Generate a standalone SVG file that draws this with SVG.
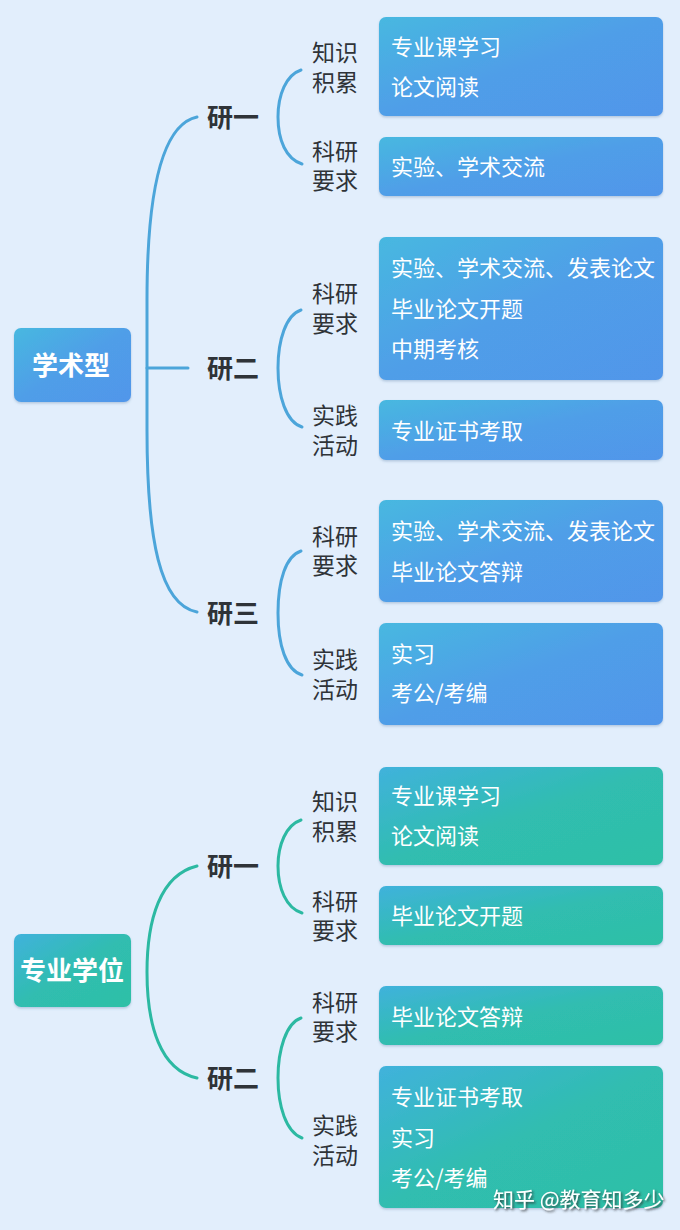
<svg xmlns="http://www.w3.org/2000/svg" width="680" height="1230" viewBox="0 0 680 1230">
<defs>
<linearGradient id="gb" x1="0" y1="0" x2="1" y2="1"><stop offset="0" stop-color="#47b8e0"/><stop offset="0.5" stop-color="#509ee8"/><stop offset="1" stop-color="#5196ea"/></linearGradient>
<linearGradient id="gg" x1="0" y1="0" x2="1" y2="1"><stop offset="0" stop-color="#40b2dc"/><stop offset="0.5" stop-color="#30bdb0"/><stop offset="1" stop-color="#2ec0a6"/></linearGradient>
<filter id="sh" x="-5%" y="-5%" width="110%" height="120%"><feDropShadow dx="0" dy="1.5" stdDeviation="1.2" flood-color="#5a7fa8" flood-opacity="0.35"/></filter>
<filter id="ws" x="-5%" y="-20%" width="110%" height="140%"><feDropShadow dx="1.5" dy="1.5" stdDeviation="0.8" flood-color="#333" flood-opacity="0.8"/></filter>
</defs>
<style>
text{font-family:"Noto Sans CJK SC","Noto Sans",sans-serif;dominant-baseline:central}
.root{font-size:26px;font-weight:bold;fill:#fff;text-anchor:middle}
.l1{font-size:26px;font-weight:bold;fill:#2f3338}
.l2{font-size:23px;fill:#2f3338}
.bt{font-size:22px;fill:#fff}
.cb{fill:none;stroke:#4ca5da;stroke-width:3;stroke-linecap:round}
.cg{fill:none;stroke:#2cb9a2;stroke-width:3;stroke-linecap:round}
.bb{fill:url(#gb);filter:url(#sh)}
.bg{fill:url(#gg);filter:url(#sh)}
</style>
<rect width="680" height="1230" fill="#e2eefc"/>
<g id="connectors">
<path class="cb" d="M197,117 C160,125 147,200 147,300 L147,430 C147,540 160,605 197,612"/>
<path class="cb" d="M147,368 L188,368"/>
<path class="cb" d="M301,70 C286,75 278,95 278,117 C278,140 286,159 302,164"/>
<path class="cb" d="M301,310 C286,315 278,340 278,368 C278,396 286,422 302,427"/>
<path class="cb" d="M301,551 C286,556 278,580 278,613 C278,645 286,670 302,675"/>
<path class="cg" d="M197,866 C160,875 147,920 147,972 C147,1025 160,1070 197,1078"/>
<path class="cg" d="M301,820 C286,825 278,845 278,866 C278,888 286,908 302,913"/>
<path class="cg" d="M301,1018 C286,1023 278,1050 278,1078 C278,1106 286,1132 302,1138"/>
</g>
<g id="root-academic"><rect x="14" y="328" width="117" height="74" rx="7" class="bb"/><text class="root" x="71" y="363">学术型</text></g>
<g id="a-y1"><text class="l1" x="207" y="115">研一</text></g>
<g id="a-y2"><text class="l1" x="207" y="366">研二</text></g>
<g id="a-y3"><text class="l1" x="207" y="611">研三</text></g>
<g id="a-y1-k"><text class="l2"><tspan x="312" y="51">知识</tspan><tspan x="312" y="81">积累</tspan></text></g>
<g id="a-y1-r"><text class="l2"><tspan x="312" y="150">科研</tspan><tspan x="312" y="179">要求</tspan></text></g>
<g id="a-y2-r"><text class="l2"><tspan x="312" y="292">科研</tspan><tspan x="312" y="322">要求</tspan></text></g>
<g id="a-y2-p"><text class="l2"><tspan x="312" y="414">实践</tspan><tspan x="312" y="444">活动</tspan></text></g>
<g id="a-y3-r"><text class="l2"><tspan x="312" y="535">科研</tspan><tspan x="312" y="564">要求</tspan></text></g>
<g id="a-y3-p"><text class="l2"><tspan x="312" y="658">实践</tspan><tspan x="312" y="688">活动</tspan></text></g>
<g id="a-b1"><rect x="379" y="17" width="284" height="99" rx="7" class="bb"/><text class="bt" x="391" y="45">专业课学习</text><text class="bt" x="391" y="85">论文阅读</text></g>
<g id="a-b2"><rect x="379" y="137" width="284" height="59" rx="7" class="bb"/><text class="bt" x="391" y="165">实验、学术交流</text></g>
<g id="a-b3"><rect x="379" y="237" width="284" height="143" rx="7" class="bb"/><text class="bt" x="391" y="266">实验、学术交流、发表论文</text><text class="bt" x="391" y="307">毕业论文开题</text><text class="bt" x="391" y="347">中期考核</text></g>
<g id="a-b4"><rect x="379" y="400" width="284" height="60" rx="7" class="bb"/><text class="bt" x="391" y="429">专业证书考取</text></g>
<g id="a-b5"><rect x="379" y="500" width="284" height="102" rx="7" class="bb"/><text class="bt" x="391" y="529">实验、学术交流、发表论文</text><text class="bt" x="391" y="570">毕业论文答辩</text></g>
<g id="a-b6"><rect x="379" y="623" width="284" height="102" rx="7" class="bb"/><text class="bt" x="391" y="652">实习</text><text class="bt" x="391" y="691">考公/考编</text></g>
<g id="root-professional"><rect x="14" y="934" width="117" height="73" rx="7" class="bg"/><text class="root" x="72" y="968">专业学位</text></g>
<g id="p-y1"><text class="l1" x="207" y="864">研一</text></g>
<g id="p-y2"><text class="l1" x="207" y="1076">研二</text></g>
<g id="p-y1-k"><text class="l2"><tspan x="312" y="800">知识</tspan><tspan x="312" y="830">积累</tspan></text></g>
<g id="p-y1-r"><text class="l2"><tspan x="312" y="900">科研</tspan><tspan x="312" y="929">要求</tspan></text></g>
<g id="p-y2-r"><text class="l2"><tspan x="312" y="1001">科研</tspan><tspan x="312" y="1030">要求</tspan></text></g>
<g id="p-y2-p"><text class="l2"><tspan x="312" y="1124">实践</tspan><tspan x="312" y="1154">活动</tspan></text></g>
<g id="p-b1"><rect x="379" y="767" width="284" height="98" rx="7" class="bg"/><text class="bt" x="391" y="794">专业课学习</text><text class="bt" x="391" y="834">论文阅读</text></g>
<g id="p-b2"><rect x="379" y="886" width="284" height="59" rx="7" class="bg"/><text class="bt" x="391" y="914">毕业论文开题</text></g>
<g id="p-b3"><rect x="379" y="986" width="284" height="59" rx="7" class="bg"/><text class="bt" x="391" y="1015">毕业论文答辩</text></g>
<g id="p-b4"><rect x="379" y="1066" width="284" height="142" rx="7" class="bg"/><text class="bt" x="391" y="1095">专业证书考取</text><text class="bt" x="391" y="1136">实习</text><text class="bt" x="391" y="1176">考公/考编</text></g>
<g id="watermark"><text x="493" y="1198" style="font-size:21px;fill:#fff;filter:url(#ws)">知乎 @教育知多少</text></g>
</svg>
